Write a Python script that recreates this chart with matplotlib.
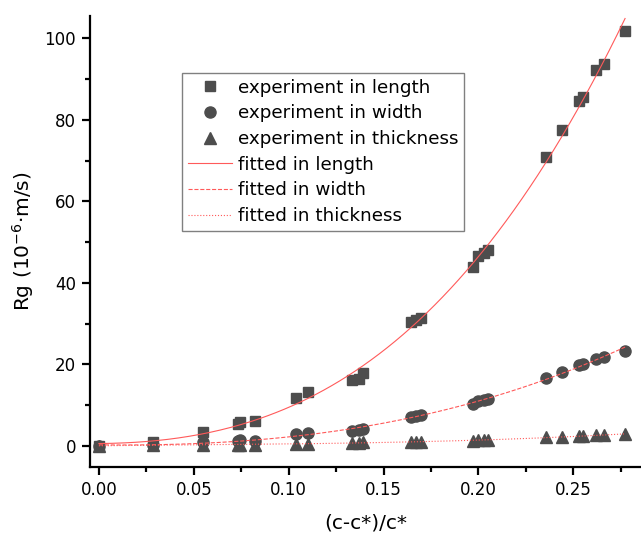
import numpy as np
import matplotlib.pyplot as plt

plt.rcParams['font.family'] = ['DejaVu Sans']

# data
x_len = [0.0, 0.0286, 0.0547, 0.0734, 0.0743, 0.082, 0.104, 0.110, 0.1334, 0.137, 0.139,
         0.1645, 0.167, 0.170, 0.197, 0.200, 0.203, 0.205,
         0.2356, 0.2441, 0.2532, 0.2553, 0.2618, 0.2662, 0.2773]
y_len = [0.0, 1.0, 3.4, 5.3, 5.9, 6.1, 11.8, 13.2, 16.1, 16.5, 17.8,
         30.4, 30.8, 31.3, 44.0, 46.5, 47.3, 48.1,
         70.9, 77.5, 84.7, 85.7, 92.3, 93.8, 101.9]
y_wid = [0.0, 0.3, 0.8, 1.2, 1.3, 1.2, 2.9, 3.1, 3.7, 3.9, 4.2,
         7.1, 7.3, 7.5, 10.2, 11.0, 11.2, 11.4,
         16.7, 18.1, 19.8, 20.1, 21.4, 21.8, 23.3]
y_thk = [0.0, 0.1, 0.2, 0.3, 0.3, 0.3, 0.5, 0.5, 0.7, 0.7, 0.8,
         0.9, 1.0, 1.0, 1.2, 1.3, 1.4, 1.4,
         2.1, 2.2, 2.4, 2.4, 2.6, 2.6, 2.8]

labels_exp = ['experiment in length', 'experiment in width', 'experiment in thickness']
labels_fit = ['fitted in length', 'fitted in width', 'fitted in thickness']

mk_color = '#4d4d4d'
fit_color = '#ff5a5a'

fig = plt.figure(figsize=(6.41, 5.37), dpi=100)
ax = fig.add_axes([0.1404, 0.1309, 0.8596, 0.8393])

ax.plot(x_len, y_len, 's', ms=7.5, color=mk_color, mec=mk_color, label=labels_exp[0], zorder=3)
ax.plot(x_len, y_wid, 'o', ms=8, color=mk_color, mec=mk_color, label=labels_exp[1], zorder=3)
ax.plot(x_len, y_thk, '^', ms=8.5, color=mk_color, mec=mk_color, label=labels_exp[2], zorder=3)

# fitted curves (cubic fit of the experiment points)
xf = np.linspace(0, max(x_len), 200)
for ys, ls, lab in zip([y_len, y_wid, y_thk], ['-', '--', ':'], labels_fit):
    p = np.polyfit(x_len, ys, 3)
    ax.plot(xf, np.polyval(p, xf), ls, color=fit_color, lw=0.8, label=lab, zorder=4)

ax.set_xlim(-0.0047, 0.2857)
ax.set_ylim(-5.15, 105.5)
ax.set_xticks([0, 0.05, 0.1, 0.15, 0.2, 0.25])
ax.set_xticks(np.arange(0.025, 0.28, 0.05), minor=True)
ax.set_yticks([0, 20, 40, 60, 80, 100])
ax.set_yticks([10, 30, 50, 70, 90], minor=True)
ax.set_xticklabels(['0.00', '0.05', '0.10', '0.15', '0.20', '0.25'])

for s in ['top', 'right']:
    ax.spines[s].set_visible(False)
for s in ['left', 'bottom']:
    ax.spines[s].set_linewidth(1.6)

ax.tick_params(which='major', direction='out', length=6, width=1.6, labelsize=12, pad=4)
ax.tick_params(which='minor', direction='out', length=3.5, width=1.6)

ax.set_xlabel('(c-c*)/c*', fontsize=14.5, labelpad=11)
ax.set_ylabel('Rg (10$^{-6}$·m/s)', fontsize=14.5, labelpad=6)

leg = ax.legend(loc='upper left', bbox_to_anchor=(0.167, 0.8735), borderaxespad=0,
                fontsize=13.2, labelspacing=0.42, handlelength=2.4, handletextpad=0.35,
                borderpad=0.3, fancybox=False, edgecolor='#808080', framealpha=1)
leg.get_frame().set_linewidth(1.0)

fig.savefig('out.png', dpi=100)
